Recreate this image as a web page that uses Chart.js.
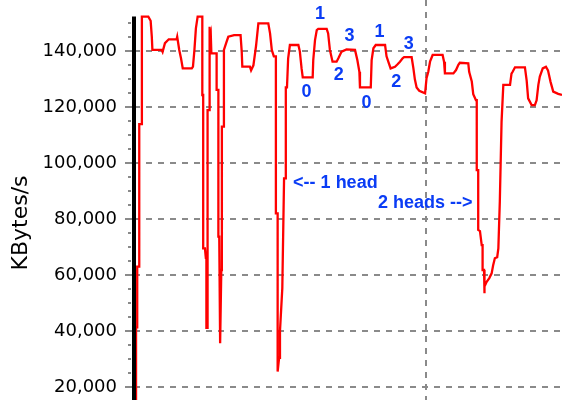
<!DOCTYPE html>
<html>
<head>
<meta charset="utf-8">
<script src="https://cdn.jsdelivr.net/npm/chart.js@4.4.1/dist/chart.umd.min.js"></script>
<style>
    html, body { margin: 0; padding: 0; background: #fff; }
    canvas { display: block; }
</style>
</head>
<body>
<canvas id="throughputChart" width="562" height="400"></canvas>
<script>
// time (s) and throughput (KBytes/s)
const times = [
    0.7, 0.7, 1.1, 1.1, 1.8, 1.8, 2.7, 2.7, 4.9, 5.7, 6.1, 6.3, 9.5, 9.8, 10.6, 11.9,
    14.6, 14.8, 15.5, 16.1, 16.7, 19.8, 20.2, 20.7, 21.2, 21.8, 23.4, 23.4, 23.7, 23.7,
    24.3, 24.6, 24.8, 24.8, 25.2, 25.2, 25.7, 25.8, 26.0, 26.3, 26.5, 28.3, 28.3, 28.9,
    28.9, 29.2, 29.5, 29.9, 30.1, 30.1, 30.7, 30.8, 31.7, 32.3, 34.3, 36.5, 36.9, 37.1,
    39.7, 40.1, 40.9, 41.8, 42.6, 46.0, 46.6, 47.2, 47.9, 48.6, 48.6, 49.2, 49.2, 49.7,
    50.0, 50.8, 51.0, 51.4, 52.0, 52.0, 52.4, 52.8, 53.4, 56.3, 56.8, 57.4, 57.8, 61.2,
    61.4, 62.0, 62.6, 63.1, 66.0, 66.5, 67.1, 68.0, 69.4, 70.0, 71.1, 72.8, 75.7, 76.5,
    77.2, 77.4, 81.1, 81.4, 82.0, 82.8, 86.0, 86.5, 87.1, 87.9, 89.4, 90.2, 91.1, 92.0,
    92.5, 95.1, 95.7, 96.2, 96.8, 97.7, 99.7, 100.2, 100.8, 101.4, 102.3, 105.7, 106.2,
    106.5, 109.4, 110.3, 111.1, 111.6, 114.5, 114.8, 115.7, 116.2, 117.1, 117.4, 117.4,
    117.9, 117.9, 118.5, 119.1, 119.4, 119.4, 119.9, 119.9, 120.2, 120.8, 121.7, 122.5,
    123.0, 123.6, 124.4, 124.8, 125.3, 125.9, 126.5, 128.8, 129.3, 129.7, 130.5, 133.9,
    134.5, 135.0, 136.2, 137.3, 137.9, 138.5, 139.0, 140.0, 141.1, 141.8, 142.7, 143.6,
    145.3, 146.6, 147.6
];
const kbps = [
    10000, 41400, 41400, 63100, 63100, 114000, 114000, 152400, 152400, 150900, 145200, 140500, 140500, 139800, 142900, 144300,
    144300, 145200, 140500, 137500, 133900, 133900, 134500, 140500, 148200, 152400, 152400, 124400, 124400, 69600,
    69600, 66200, 66200, 41200, 41200, 119000, 119000, 148800, 144000, 146000, 139300, 139300, 126200, 126200,
    73800, 73800, 35700, 61900, 61900, 113100, 113100, 140500, 143400, 145200, 145800, 145800, 139900, 134500,
    134500, 133200, 135000, 141900, 150000, 150000, 146400, 140500, 138200, 138200, 82100, 82100, 25600, 30500,
    40000, 55400, 55400, 94600, 94600, 127100, 127100, 137500, 142250, 142250, 140000, 133900, 130700, 130700,
    136900, 144000, 147600, 148000, 148000, 146400, 140500, 136300, 136300, 137500, 139900, 140700, 140500, 136900,
    132700, 127100, 127100, 136900, 141100, 142250, 142250, 138200, 136300, 133900, 134500, 135300, 136300, 137500,
    137900, 137900, 133900, 130000, 127100, 125900, 125000, 130400, 132700, 136300, 138700, 138700, 136300,
    132100, 132100, 133300, 135200, 135900, 135700, 132700, 129200, 124700, 122600, 122600, 97600,
    97600, 76200, 75800, 70800, 70800, 61900, 61900, 53600, 56000, 57700, 59000, 60700,
    63500, 66100, 66500, 69600, 86300, 114900, 128000, 128000, 132000, 132700, 134300, 134300,
    129500, 123200, 120800, 120800, 122500, 128000, 131000, 133900, 134500, 133200, 129000, 125600,
    124800, 124400, 124400
];

// labelled value ticks
const yTicks = [20000, 40000, 60000, 80000, 100000, 120000, 140000];

// annotation labels (text + where they sit, in data units)
const noteText = ["1", "3", "2", "0", "1", "3", "2", "0", "<-- 1 head", "2 heads -->"];
const noteTime = [63.7, 73.8, 70.1, 59.1, 84.1, 94.1, 89.8, 79.6, 54.5, 83.6];
const noteKbps = [153400, 145500, 131600, 125400, 146800, 142500, 129000, 121700, 93000, 85800];

const yMin = 15464;
const yMax = 158330;
const yMinorStep = 5000;
const xMax = 146.6;
const xGridAt = 100;

const GRID = "#8a8a8a";

const axisPlugin = {
    id: "axisDecor",
    afterDatasetsDraw(chart) {
        const { ctx, chartArea, scales } = chart;
        const y = scales.y;
        const dataTop = Math.max(...kbps);
        ctx.save();

        // minor ticks on the value axis
        ctx.strokeStyle = GRID;
        ctx.lineWidth = 2;
        for (let v = Math.ceil(yMin / yMinorStep) * yMinorStep; v <= dataTop; v += yMinorStep) {
            if (yTicks.includes(v)) continue;
            const py = Math.round(y.getPixelForValue(v));
            ctx.beginPath();
            ctx.moveTo(chartArea.left - 6, py);
            ctx.lineTo(chartArea.left - 3, py);
            ctx.stroke();
        }

        // thick black axis line, up to the top of the data
        ctx.strokeStyle = "#000";
        ctx.lineWidth = 4;
        ctx.beginPath();
        ctx.moveTo(chartArea.left, y.getPixelForValue(dataTop));
        ctx.lineTo(chartArea.left, chartArea.bottom);
        ctx.stroke();

        // axis title
        ctx.fillStyle = "#000";
        ctx.font = '22px "DejaVu Sans"';
        ctx.textAlign = "center";
        ctx.textBaseline = "middle";
        ctx.translate(21, 223);
        ctx.rotate(-Math.PI / 2);
        ctx.fillText("KBytes/s", 0, 0);
        ctx.restore();

        // notes
        ctx.save();
        ctx.fillStyle = "#0a3cf5";
        ctx.font = 'bold 18px "Liberation Sans"';
        ctx.textBaseline = "middle";
        noteText.forEach((t, i) => {
            ctx.textAlign = t.length > 1 ? "left" : "center";
            ctx.fillText(t, scales.x.getPixelForValue(noteTime[i]), y.getPixelForValue(noteKbps[i]));
        });
        ctx.restore();
    }
};

const ctx = document.getElementById("throughputChart").getContext("2d");
new Chart(ctx, {
    type: "line",
    data: {
        datasets: [{
            data: times.map((t, i) => ({ x: t, y: kbps[i] })),
            borderColor: "#ff0000",
            borderWidth: 2.3,
            pointRadius: 0,
            tension: 0,
            fill: false
        }]
    },
    options: {
        responsive: false,
        animation: false,
        devicePixelRatio: 1,
        layout: { padding: 0 },
        plugins: { legend: { display: false }, tooltip: { enabled: false } },
        scales: {
            x: {
                type: "linear",
                min: 0,
                max: xMax,
                afterBuildTicks: scale => { scale.ticks = [{ value: xGridAt }]; },
                afterFit: scale => { scale.height = 0; scale.paddingLeft = 0; scale.paddingRight = 0; },
                ticks: { display: false },
                border: { display: false, dash: [6, 6] },
                grid: {
                    drawTicks: false,
                    lineWidth: 2,
                    borderDash: [6, 6],
                    color: GRID
                }
            },
            y: {
                min: yMin,
                max: yMax,
                afterFit: scale => { scale.width = 134; scale.paddingTop = 0; scale.paddingBottom = 0; },
                afterBuildTicks: scale => { scale.ticks = yTicks.map(v => ({ value: v })); },
                border: { display: false, dash: [6, 6] },
                grid: {
                    lineWidth: 2,
                    tickLength: 9,
                    borderDash: [6, 6],
                    color: GRID,
                    tickColor: GRID
                },
                ticks: {
                    padding: 8,
                    color: "#000",
                    font: { family: "DejaVu Sans", size: 18 },
                    callback: v => v.toLocaleString("en-US")
                }
            }
        }
    },
    plugins: [axisPlugin]
});
</script>
</body>
</html>
